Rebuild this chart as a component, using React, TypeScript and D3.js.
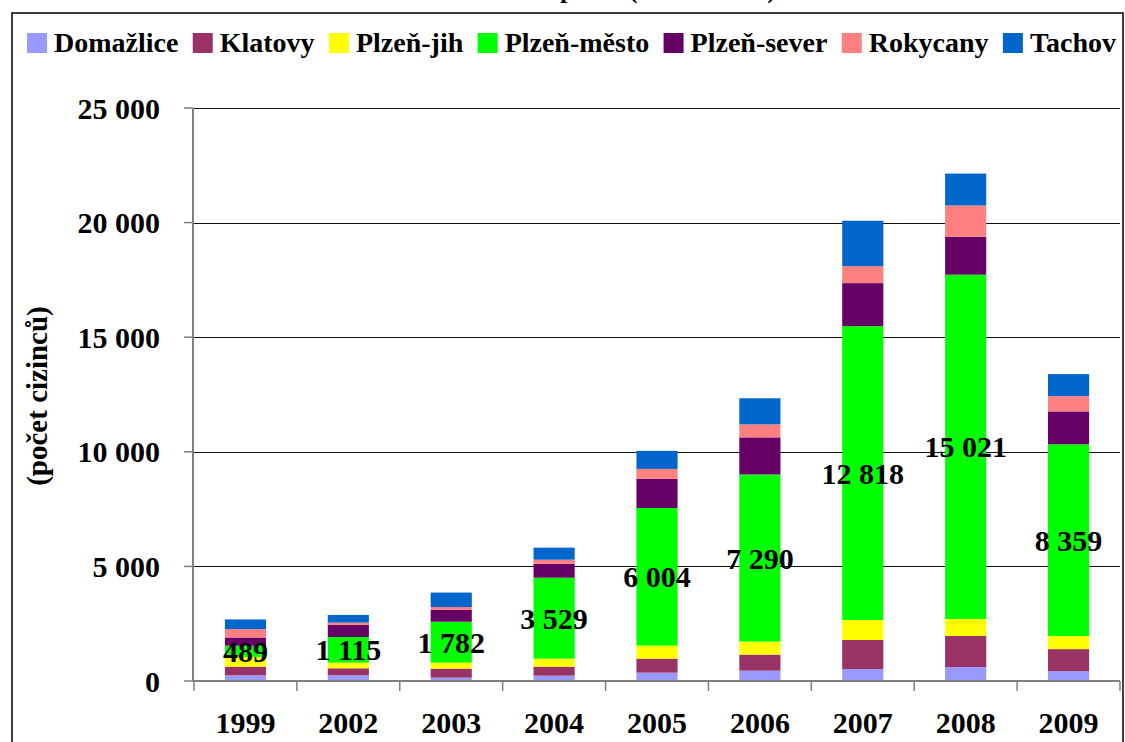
import React, { useEffect, useRef } from 'react';
import * as d3 from 'd3';

const years = ['1999', '2002', '2003', '2004', '2005', '2006', '2007', '2008', '2009'];
const seriesNames = ['Domažlice', 'Klatovy', 'Plzeň-jih', 'Plzeň-město', 'Plzeň-sever', 'Rokycany', 'Tachov'];
const domazlice = [248, 248, 146, 233, 364, 452, 518, 607, 429];
const klatovy = [380, 307, 395, 394, 612, 700, 1272, 1361, 962];
const plzenJih = [423, 248, 263, 350, 569, 569, 873, 740, 577];
const plzenMesto = [489, 1115, 1782, 3529, 6004, 7290, 12818, 15021, 8359];
const plzenSever = [358, 526, 526, 612, 1268, 1618, 1879, 1657, 1435];
const rokycany = [365, 102, 117, 175, 437, 569, 740, 1361, 666];
const tachov = [423, 336, 629, 525, 787, 1137, 1982, 1391, 962];
const seriesValues = [domazlice, klatovy, plzenJih, plzenMesto, plzenSever, rokycany, tachov];
const colors = ['#9999FF', '#993366', '#FFFF00', '#00FF00', '#660066', '#FF8080', '#0066CC'];
const yTicks = [0, 5000, 10000, 15000, 20000, 25000];
const labelledSeries = 'Plzeň-město';
const titleText = 'Cizinci v okresech – stav počtu (1999 – 2009)';
const yTitle = '(počet cizinců)';

const W = 1125;
const H = 742;
const FONT = '"Liberation Serif", "Times New Roman", Tinos, serif';

export default function App() {
  const ref = useRef<SVGSVGElement | null>(null);

  useEffect(() => {
    const svg = d3.select(ref.current);
    svg.selectAll('*').remove();

    const fmt = d3.formatLocale({ decimal: ',', thousands: ' ', grouping: [3], currency: ['', ''] }).format(',d');

    const table = years.map((yr, i) => {
      const row: any = { year: yr };
      seriesNames.forEach((s, j) => (row[s] = seriesValues[j][i]));
      return row;
    });
    const stacked = d3.stack<any>().keys(seriesNames)(table);

    const left = 194, right = 1120, top = 108, bottom = 681;
    const x = d3.scaleBand<string>().domain(years).range([left, right]).paddingInner(0.6).paddingOuter(0.3);
    const y = d3.scaleLinear().domain([0, 25000]).range([bottom, top]);
    const step = x.step();

    // outer frame
    svg.append('rect').attr('x', 12).attr('y', 13).attr('width', 1111).attr('height', 800)
      .attr('fill', 'white').attr('stroke', '#000').attr('stroke-width', 1.5);

    // title (mostly cut off at top, as in the reference)
    svg.append('text').attr('x', 776).attr('y', -2).attr('text-anchor', 'end')
      .attr('font-family', FONT).attr('font-weight', 'bold').attr('font-size', 26).text(titleText);

    // gridlines
    svg.append('g').selectAll('line').data(yTicks.filter(t => t > 0)).join('line')
      .attr('x1', left).attr('x2', right).attr('y1', d => Math.round(y(d)) + 0.5).attr('y2', d => Math.round(y(d)) + 0.5)
      .attr('stroke', '#111').attr('stroke-width', 1.2);

    // bars
    const g = svg.append('g');
    stacked.forEach((layer, j) => {
      g.append('g').attr('fill', colors[j]).selectAll('rect').data(layer).join('rect')
        .attr('x', (d: any) => x(d.data.year)!)
        .attr('width', x.bandwidth())
        .attr('y', (d: any) => y(d[1]))
        .attr('height', (d: any) => y(d[0]) - y(d[1]));
    });

    // axes
    svg.append('line').attr('x1', left - 1).attr('x2', left - 1).attr('y1', top).attr('y2', bottom)
      .attr('stroke', '#808080').attr('stroke-width', 2);
    svg.append('g').selectAll('line').data(yTicks).join('line')
      .attr('x1', left - 10).attr('x2', left - 1).attr('y1', d => y(d)).attr('y2', d => y(d))
      .attr('stroke', '#808080').attr('stroke-width', 1.5);
    svg.append('line').attr('x1', left - 1).attr('x2', right).attr('y1', bottom).attr('y2', bottom)
      .attr('stroke', '#808080').attr('stroke-width', 2);
    svg.append('g').selectAll('line').data(d3.range(years.length + 1)).join('line')
      .attr('x1', i => left + i * step).attr('x2', i => left + i * step)
      .attr('y1', bottom).attr('y2', bottom + 10)
      .attr('stroke', '#808080').attr('stroke-width', 1.5);

    // y tick labels
    svg.append('g').selectAll('text').data(yTicks).join('text')
      .attr('x', 160).attr('y', d => y(d)).attr('dy', '0.35em').attr('text-anchor', 'end')
      .attr('font-family', FONT).attr('font-weight', 'bold').attr('font-size', 30)
      .text(d => fmt(d));

    // x labels
    svg.append('g').selectAll('text').data(years).join('text')
      .attr('x', d => x(d)! + x.bandwidth() / 2).attr('y', 733).attr('text-anchor', 'middle')
      .attr('font-family', FONT).attr('font-weight', 'bold').attr('font-size', 30)
      .text(d => d);

    // y title
    svg.append('text').attr('transform', 'translate(47,396) rotate(-90)').attr('text-anchor', 'middle')
      .attr('font-family', FONT).attr('font-weight', 'bold').attr('font-size', 29).text(yTitle);

    // data labels
    const li = seriesNames.indexOf(labelledSeries);
    svg.append('g').selectAll('text').data(stacked[li]).join('text')
      .attr('x', (d: any) => x(d.data.year)! + x.bandwidth() / 2)
      .attr('y', (d: any) => (y(d[0]) + y(d[1])) / 2)
      .attr('dy', '0.35em').attr('text-anchor', 'middle')
      .attr('font-family', FONT).attr('font-weight', 'bold').attr('font-size', 30)
      .text((d: any) => fmt(d[1] - d[0]));

    // legend
    const lg = svg.append('g');
    const texts = seriesNames.map(s => lg.append('text').attr('font-family', FONT).attr('font-weight', 'bold')
      .attr('font-size', 28).attr('y', 52).text(s));
    const widths = texts.map(t => (t.node() as SVGTextElement).getComputedTextLength());
    const startX = 27, endX = 1116, sw = 20, gapIn = 7;
    const used = widths.reduce((a, w) => a + sw + gapIn + w, 0);
    const gapOut = (endX - startX - used) / (seriesNames.length - 1);
    let cx = startX;
    seriesNames.forEach((s, j) => {
      lg.append('rect').attr('x', cx).attr('y', 33).attr('width', sw).attr('height', 20).attr('fill', colors[j]);
      texts[j].attr('x', cx + sw + gapIn);
      cx += sw + gapIn + widths[j] + gapOut;
    });
  }, []);

  return (
    <svg ref={ref} width={W} height={H} style={{ position: 'absolute', left: 0, top: 0, display: 'block', background: 'white' }} />
  );
}
